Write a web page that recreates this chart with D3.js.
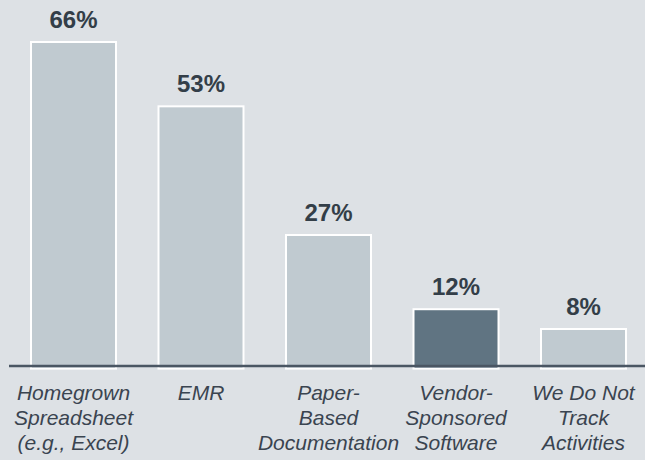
<!DOCTYPE html>
<html>
<head>
<meta charset="utf-8">
<script src="https://cdn.jsdelivr.net/npm/d3@7"></script>
<style>
  body { margin: 0; background: #dde1e5; }
  svg { display: block; }
</style>
</head>
<body>
<div class="chart"></div>
<script>
var categories = [
  ["Homegrown", "Spreadsheet", "(e.g., Excel)"],
  ["EMR"],
  ["Paper-", "Based", "Documentation"],
  ["Vendor-", "Sponsored", "Software"],
  ["We Do Not", "Track", "Activities"]
];
var values = [66, 53, 27, 12, 8];
var highlight = [false, false, false, true, false];

var w = 645;
var h = 460;

var svg = d3.select(".chart")
  .append("svg")
  .attr("width", w)
  .attr("height", h);

svg.append("rect")
  .attr("width", w)
  .attr("height", h)
  .attr("fill", "#dde1e5");

var xScale = d3.scaleBand()
  .domain(d3.range(values.length))
  .range([9.75, 647.25])
  .paddingInner(1/3)
  .paddingOuter(1/6);

var yScale = d3.scaleLinear()
  .domain([0, 66])
  .range([368.6, 42]);

svg.selectAll("rect.bar")
  .data(values)
  .enter()
  .append("rect")
  .attr("class", "bar")
  .attr("x", function(d, i) { return xScale(i); })
  .attr("y", function(d) { return yScale(d); })
  .attr("width", xScale.bandwidth())
  .attr("height", function(d) { return yScale(0) - yScale(d); })
  .attr("fill", function(d, i) { return highlight[i] ? "#607482" : "#c0cad0"; })
  .attr("stroke", "#ffffff")
  .attr("stroke-width", 2);

// baseline
svg.append("line")
  .attr("x1", 9)
  .attr("x2", w)
  .attr("y1", 366)
  .attr("y2", 366)
  .attr("stroke", "#4a5663")
  .attr("stroke-width", 2.5);

// value labels
svg.selectAll("text.val")
  .data(values)
  .enter()
  .append("text")
  .attr("class", "val")
  .attr("x", function(d, i) { return xScale(i) + xScale.bandwidth() / 2; })
  .attr("y", function(d) { return yScale(d) - 14; })
  .attr("text-anchor", "middle")
  .attr("font-family", "Liberation Sans, Arial, sans-serif")
  .attr("font-weight", "bold")
  .attr("font-size", "24px")
  .attr("fill", "#333e48")
  .text(function(d) { return d + "%"; });

// category labels
var cat = svg.selectAll("text.cat")
  .data(categories)
  .enter()
  .append("text")
  .attr("class", "cat")
  .attr("text-anchor", "middle")
  .attr("font-family", "Liberation Sans, Arial, sans-serif")
  .attr("font-style", "italic")
  .attr("font-size", "21px")
  .attr("fill", "#3a4450");

cat.selectAll("tspan")
  .data(function(d, i) { return d.map(function(t) { return {t: t, i: i}; }); })
  .enter()
  .append("tspan")
  .attr("x", function(d) { return xScale(d.i) + xScale.bandwidth() / 2; })
  .attr("y", function(d, j) { return 400 + j * 25; })
  .text(function(d) { return d.t; });
</script>
</body>
</html>
